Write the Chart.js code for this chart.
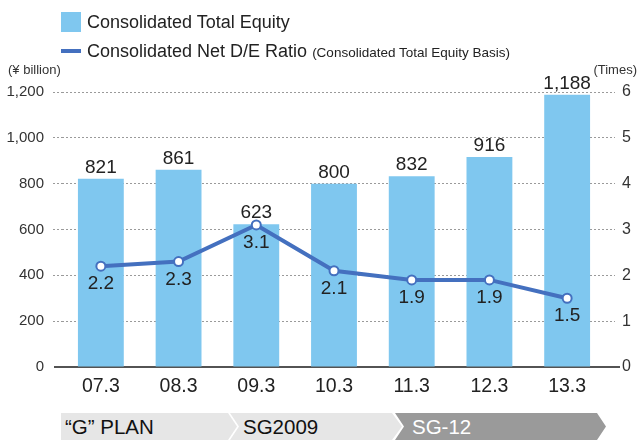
<!DOCTYPE html>
<html>
<head>
<meta charset="utf-8">
<script src="https://cdn.jsdelivr.net/npm/chart.js@4/dist/chart.umd.min.js"></script>
<style>
  html, body { margin: 0; padding: 0; background: #fff; }
  body { width: 638px; height: 440px; position: relative; overflow: hidden;
         font-family: "Liberation Sans", Arial, sans-serif; color: #222; }
  #chart { position: absolute; left: 0; top: 0; }
  .abs { position: absolute; white-space: nowrap; }
  .sw-bar { left: 61px; top: 12px; width: 20px; height: 20px; background: #7fc7ef; }
  .sw-line { left: 61px; top: 49px; width: 20px; height: 4px; background: #4470bf; }
  .lg { left: 87px; font-size: 18px; line-height: 20px; }
  .lg small { font-size: 13.5px; }
  .unit { top: 62px; font-size: 13px; color: #333; }
  .band { top: 413px; height: 27px; line-height: 27px; font-size: 20.5px; color: #111; }
</style>
</head>
<body>
<canvas id="chart" width="638" height="440"></canvas>

<div class="abs sw-bar"></div>
<div class="abs lg" style="top:12px">Consolidated Total Equity</div>
<div class="abs sw-line"></div>
<div class="abs lg" style="top:41px">Consolidated Net D/E Ratio <small>(Consolidated Total Equity Basis)</small></div>
<div class="abs unit" style="left:8px">(¥ billion)</div>
<div class="abs unit" style="right:1px">(Times)</div>

<div class="abs band" style="left:61px;width:176px;background:#e6e6e6;clip-path:polygon(0 0,167px 0,176px 50%,167px 100%,0 100%)"><span style="padding-left:4px">“G” PLAN</span></div>
<div class="abs band" style="left:230px;width:172px;background:#e6e6e6;clip-path:polygon(0 0,162px 0,172px 50%,162px 100%,0 100%,9px 50%)"><span style="padding-left:13px">SG2009</span></div>
<div class="abs band" style="left:395px;width:211px;background:#9a9a9a;color:#fff;clip-path:polygon(0 0,202px 0,211px 50%,202px 100%,0 100%,9px 50%)"><span style="padding-left:17px">SG-12</span></div>

<script>
const categories = ["07.3", "08.3", "09.3", "10.3", "11.3", "12.3", "13.3"];
const equity = [821, 861, 623, 800, 832, 916, 1188];   // ¥ billion
const deRatio = [2.2, 2.3, 3.1, 2.1, 1.9, 1.9, 1.5];   // times
const leftTicks = [0, 200, 400, 600, 800, 1000, 1200];
const rightTicks = [0, 1, 2, 3, 4, 5, 6];

const BAR = "#7fc7ef", LINE = "#4470bf", INK = "#222", GRID = "#9a9a9a";
const FONT = "'Liberation Sans', Arial, sans-serif";
const hideZero = (c) => c.tick.value === 0 ? "rgba(0,0,0,0)" : GRID;

// value labels: above bars, below line points
const valueLabels = {
  id: "valueLabels",
  afterDatasetsDraw(chart) {
    const ctx = chart.ctx;
    ctx.save();
    ctx.fillStyle = INK;
    ctx.textAlign = "center";
    ctx.font = "19px " + FONT;
    ctx.textBaseline = "alphabetic";
    chart.getDatasetMeta(0).data.forEach((el, i) => {
      ctx.fillText(equity[i].toLocaleString("en-US"), el.x, el.y - 6);
    });
    ctx.textBaseline = "middle";
    chart.getDatasetMeta(1).data.forEach((el, i) => {
      ctx.fillText(deRatio[i].toFixed(1), el.x, el.y + 18);
    });
    ctx.restore();
  },
};

// solid baseline at zero, a bit wider than the plot
const baseline = {
  id: "baseline",
  beforeDatasetsDraw(chart) {
    const { ctx, chartArea } = chart;
    const y = chart.scales.y.getPixelForValue(0);
    ctx.save();
    ctx.strokeStyle = "#1a1a1a";
    ctx.lineWidth = 1.5;
    ctx.beginPath();
    ctx.moveTo(chartArea.left - 8, y);
    ctx.lineTo(chartArea.right + 14, y);
    ctx.stroke();
    ctx.restore();
  },
};

new Chart(document.getElementById("chart"), {
  type: "bar",
  data: {
    labels: categories,
    datasets: [
      { type: "bar", label: "Consolidated Total Equity", data: equity, yAxisID: "y",
        backgroundColor: BAR, barPercentage: 0.59, categoryPercentage: 1, order: 1 },
      { type: "line", label: "Consolidated Net D/E Ratio", data: deRatio, yAxisID: "y1",
        borderColor: LINE, borderWidth: 4, tension: 0,
        pointRadius: 4.5, pointBorderWidth: 2, pointBorderColor: LINE, pointBackgroundColor: "#fff", order: 0 },
    ],
  },
  options: {
    responsive: false, devicePixelRatio: 1, animation: false,
    layout: { padding: { top: 92, bottom: 43, left: 0, right: 0 } },
    plugins: { legend: { display: false }, tooltip: { enabled: false } },
    scales: {
      x: {
        grid: { display: false, drawTicks: false }, border: { display: false },
        ticks: { color: INK, font: { family: FONT, size: 19.5 }, padding: 8 },
        afterFit: (s) => { s.height = 30; },
      },
      y: {
        position: "left", min: 0, max: 1200,
        afterBuildTicks: (s) => { s.ticks = leftTicks.map(v => ({ value: v })); },
        grid: { color: hideZero, lineWidth: 1, tickLength: 9, tickBorderDash: [2, 2], tickColor: hideZero },
        border: { display: false, dash: [2, 2] },
        ticks: { color: "#333", font: { family: FONT, size: 15 }, padding: 9,
                 callback: (v) => Number(v).toLocaleString("en-US") },
        afterFit: (s) => { s.width = 62; },
      },
      y1: {
        position: "right", min: 0, max: 6,
        afterBuildTicks: (s) => { s.ticks = rightTicks.map(v => ({ value: v })); },
        grid: { drawOnChartArea: false, tickLength: 9, tickBorderDash: [2, 2], tickColor: hideZero },
        border: { display: false },
        ticks: { color: "#333", font: { family: FONT, size: 16 }, padding: 7 },
        afterFit: (s) => { s.width = 32; },
      },
    },
  },
  plugins: [baseline, valueLabels],
});
</script>
</body>
</html>
